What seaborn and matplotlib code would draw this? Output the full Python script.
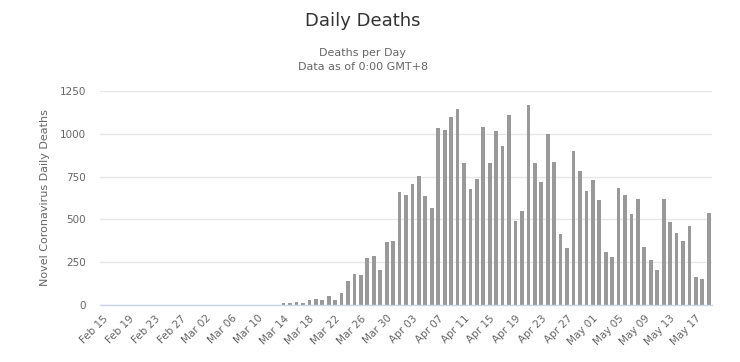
import matplotlib
matplotlib.use("Agg")
import matplotlib.pyplot as plt
import numpy as np
import pandas as pd
import seaborn as sns

BAR_COLOR = "#999999"
TEXT_COLOR = "#666666"
TITLE_COLOR = "#333333"
GRID_COLOR = "#e6e6e6"
AXIS_COLOR = "#ccd6eb"

# daily deaths, Feb 15 -> May 19 (2020)
dates = pd.date_range("2020-02-15", "2020-05-19", freq="D")
deaths_feb15_mar13 = [0] * 28
deaths_mar = [12, 12, 18, 14, 27, 33, 27, 51, 27, 70, 140, 181,
              177, 274, 288, 205, 369, 375]
deaths_apr = [662, 644, 709, 756, 639, 564, 1031, 1025, 1096, 1143,
              832, 680, 738, 1037, 832, 1019, 926, 1107, 492, 551,
              1166, 832, 721, 996, 838, 416, 334, 902, 785, 668]
deaths_may = [732, 615, 311, 281, 686, 644, 533, 621, 340, 264,
              205, 621, 486, 422, 375, 463, 164, 152, 539]
deaths = deaths_feb15_mar13 + deaths_mar + deaths_apr + deaths_may

labels = [d.strftime("%b %d") for d in dates]
df = pd.DataFrame({"date": labels, "deaths": deaths})

sns.set_style("white")
plt.rcParams["font.family"] = ["DejaVu Sans"]

fig = plt.figure(figsize=(7.4, 3.62), dpi=100)
ax = fig.add_axes([100 / 740, 57 / 362, 612 / 740, 214 / 362])

sns.barplot(data=df, x="date", y="deaths", color=BAR_COLOR, saturation=1,
            width=0.58, linewidth=0, ax=ax)

ax.set_xlim(-0.5, len(labels) - 0.5)
ax.set_ylim(0, 1250)
ax.set_yticks([0, 250, 500, 750, 1000, 1250])
ax.yaxis.grid(True, color=GRID_COLOR, linewidth=1)
ax.set_axisbelow(True)

tick_pos = list(range(0, len(labels), 4))
ax.set_xticks(tick_pos)
ax.set_xticklabels([labels[i] for i in tick_pos], rotation=45, ha="right",
                   rotation_mode="anchor", fontsize=7.5, color=TEXT_COLOR)
ax.tick_params(axis="x", length=0, pad=6)
ax.tick_params(axis="y", length=0, pad=10, labelsize=7.5, labelcolor=TEXT_COLOR)

for s in ["top", "right", "left"]:
    ax.spines[s].set_visible(False)
ax.spines["bottom"].set_color(AXIS_COLOR)
ax.spines["bottom"].set_linewidth(1)

ax.set_xlabel("")
ax.set_ylabel("Novel Coronavirus Daily Deaths", fontsize=8, color=TEXT_COLOR,
              labelpad=7)

fig.text(0.49, 0.943, "Daily Deaths", ha="center", va="center",
         fontsize=13, color=TITLE_COLOR)
fig.text(0.49, 0.835, "Deaths per Day\nData as of 0:00 GMT+8", ha="center",
         va="center", fontsize=8, color=TEXT_COLOR, linespacing=1.45)

fig.savefig("out.png", dpi=100, facecolor="white")
